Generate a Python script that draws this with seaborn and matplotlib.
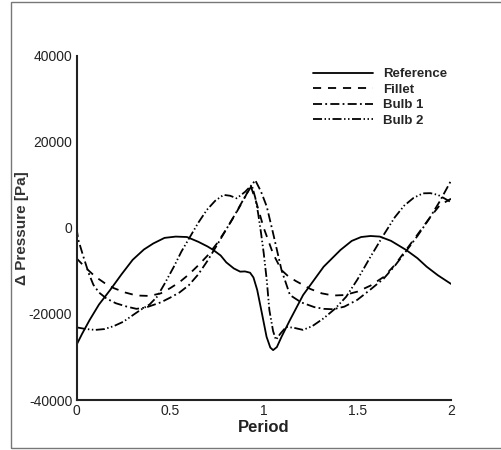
import matplotlib
matplotlib.use('Agg')
import matplotlib.pyplot as plt
import seaborn as sns
import pandas as pd
from matplotlib.patches import Rectangle
from matplotlib.ticker import MultipleLocator, FormatStrFormatter

cases = ['Reference', 'Fillet', 'Bulb 1', 'Bulb 2']

ref_x = [0, 0.03, 0.07, 0.12, 0.18, 0.24, 0.30, 0.36, 0.41, 0.47, 0.53, 0.59, 0.65, 0.70, 0.73, 0.77,
         0.80, 0.84, 0.874, 0.90, 0.927, 0.945, 0.965, 0.99, 1.015, 1.035, 1.05, 1.07, 1.095, 1.14,
         1.21, 1.27, 1.32, 1.41, 1.47, 1.52, 1.57, 1.62, 1.68, 1.76, 1.82, 1.87, 1.93, 2.0]
ref_y = [-27200, -24600, -21400, -17800, -14400, -10800, -7400, -5000, -3600, -2300, -2000, -2100,
         -3200, -4300, -5100, -6400, -8000, -9400, -10150, -10100, -10400, -11500, -14400, -19800,
         -25300, -27800, -28400, -27700, -25300, -21400, -15600, -12000, -9000, -5100, -3000, -2100,
         -1860, -2000, -3000, -5100, -7000, -9000, -11000, -13000]

fil_x = [0, 0.05, 0.10, 0.15, 0.20, 0.26, 0.32, 0.39, 0.45, 0.50, 0.55, 0.60, 0.65, 0.70, 0.75, 0.80,
         0.85, 0.90, 0.93, 0.96, 1.0, 1.05, 1.095, 1.13, 1.17, 1.25, 1.31, 1.37, 1.43, 1.50, 1.57,
         1.64, 1.70, 1.76, 1.82, 1.88, 1.94, 2.0]
fil_y = [-7050, -9300, -11300, -12800, -14000, -15000, -15700, -15800, -15200, -14000, -12600,
         -10800, -8700, -6400, -3600, -300, 3300, 7200, 9800, 6000, 0, -6000, -9800, -11200, -12300,
         -14200, -15200, -15700, -15600, -14800, -13400, -11400, -8600, -5100, -1600, 2000, 5300, 6800]

b1_x = [0, 0.01, 0.037, 0.065, 0.09, 0.12, 0.16, 0.21, 0.27, 0.32, 0.37, 0.41, 0.45, 0.50, 0.55,
        0.60, 0.65, 0.70, 0.75, 0.80, 0.85, 0.90, 0.954, 0.985, 1.016, 1.05, 1.095, 1.14, 1.20, 1.27,
        1.32, 1.37, 1.43, 1.50, 1.57, 1.64, 1.70, 1.76, 1.82, 1.88, 1.94, 2.0]
b1_y = [0, -2800, -6700, -10500, -13200, -15000, -16400, -17500, -18300, -18800, -18500, -17900,
        -17300, -16200, -15000, -13300, -10800, -7600, -4000, -300, 3400, 7300, 11160, 8500, 5000,
        -1240, -9800, -15600, -17300, -18400, -18800, -18900, -18300, -16700, -14300, -11800, -8800,
        -5400, -1900, 1900, 6200, 11000]

b2_x = [0, 0.05, 0.10, 0.15, 0.20, 0.25, 0.30, 0.34, 0.39, 0.43, 0.47, 0.52, 0.56, 0.607, 0.65,
        0.696, 0.74, 0.785, 0.82, 0.856, 0.90, 0.936, 0.955, 0.97, 0.985, 1.0, 1.016, 1.03, 1.05,
        1.065, 1.09, 1.12, 1.16, 1.21, 1.26, 1.32, 1.38, 1.44, 1.50, 1.57, 1.64, 1.70, 1.75, 1.80,
        1.85, 1.89, 1.93, 1.96, 2.0]
b2_y = [-23100, -23500, -23700, -23500, -22800, -21800, -20300, -19100, -17800, -16000, -13000,
        -9000, -5500, -2000, 1200, 4200, 6300, 7700, 7500, 6900, 8400, 10000, 7000, 3400, -1000,
        -5900, -12100, -19100, -24000, -26000, -24500, -23000, -23200, -23700, -22800, -21000,
        -18800, -16000, -12000, -6700, -1630, 2500, 5200, 7000, 8060, 8100, 7700, 7000, 6000]

series = {'Reference': (ref_x, ref_y), 'Fillet': (fil_x, fil_y),
          'Bulb 1': (b1_x, b1_y), 'Bulb 2': (b2_x, b2_y)}
df = pd.concat([pd.DataFrame({'Period': x, 'dP': y, 'Case': k}) for k, (x, y) in series.items()])

sns.set_theme(style='white')
plt.rcParams['font.family'] = ['Liberation Sans', 'DejaVu Sans']

lw = 1.3
dashes = {'Reference': '', 'Fillet': (4.5, 3.8), 'Bulb 1': (5.0, 1.8, 1.0, 1.8),
          'Bulb 2': (5.0, 1.4, 0.8, 1.4, 0.8, 1.4)}

fig = plt.figure(figsize=(5.01, 4.5), dpi=100)
ax = fig.add_axes([0.1527, 0.1111, 0.7475, 0.7645])
sns.lineplot(data=df, x='Period', y='dP', style='Case', style_order=cases, dashes=dashes,
             color='black', estimator=None, sort=False, lw=lw, legend=False, ax=ax)

ax.set_xlim(0, 2)
ax.set_ylim(-40000, 40000)
ax.xaxis.set_major_locator(MultipleLocator(0.5))
ax.xaxis.set_minor_locator(MultipleLocator(0.1))
ax.xaxis.set_major_formatter(FormatStrFormatter('%g'))
ax.yaxis.set_major_locator(MultipleLocator(20000))
ax.yaxis.set_minor_locator(MultipleLocator(5000))
ax.yaxis.set_major_formatter(FormatStrFormatter('%g'))
ax.tick_params(which='major', direction='in', length=6, width=1.2, colors='#222',
               labelsize=10, pad=3)
ax.tick_params(which='minor', direction='in', length=3, width=0.8, colors='#555')
ax.tick_params(axis='both', which='both', labelcolor='#222')
sns.despine(ax=ax)
for s in ['left', 'bottom']:
    ax.spines[s].set_linewidth(1.5)
    ax.spines[s].set_color('#222')

ax.set_xlabel('Period', fontsize=12, fontweight='bold', labelpad=1, color='#222')
ax.set_ylabel('\u0394 Pressure [Pa]', fontsize=11, fontweight='bold', labelpad=0, color='#333')

ax.legend(handles=ax.get_lines()[:4], labels=cases, loc='upper left',
          bbox_to_anchor=(0.615, 0.984), frameon=False, prop={'weight': 'bold', 'size': 9.5},
          handlelength=4.5, handletextpad=0.8, labelspacing=0.25, borderpad=0)

fig.patches.append(Rectangle((11 / 501, 2 / 450), 1.0, 446 / 450, transform=fig.transFigure,
                             fill=False, ec='#777', lw=1))

fig.savefig('out.png', dpi=100)
